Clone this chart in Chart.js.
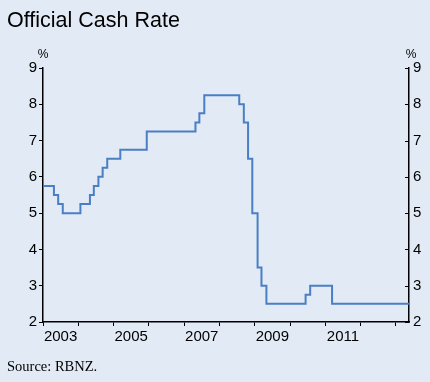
<!DOCTYPE html>
<html>
<head>
<meta charset="utf-8">
<script src="https://cdn.jsdelivr.net/npm/chart.js@4/dist/chart.umd.min.js"></script>
<style>
    body { margin: 0; background: #e2eaf5; }
    #wrap { position: relative; width: 430px; height: 382px; }
    #title { position: absolute; left: 7px; top: 8px; font: 21.5px "Liberation Sans", Arial, sans-serif; color: #000; }
    #source { position: absolute; left: 7px; top: 358px; font: 14.5px "Liberation Serif", serif; color: #000; }
    canvas { position: absolute; left: 0; top: 0; }
</style>
</head>
<body>
<div id="wrap">
    <canvas id="ocr-chart" width="430" height="382"></canvas>
    <div id="title">Official Cash Rate</div>
    <div id="source">Source: RBNZ.</div>
</div>
<script>
// OCR decision dates (decimal years) and the rate set on each
const decisionDates = [2003.0, 2003.31, 2003.43, 2003.56, 2004.06, 2004.33, 2004.44, 2004.57, 2004.69, 2004.82,
    2005.19, 2005.94, 2007.32, 2007.43, 2007.57, 2008.56, 2008.69, 2008.81, 2008.93, 2009.08,
    2009.19, 2009.33, 2010.44, 2010.57, 2011.19, 2013.37]
const cashRate = [5.75, 5.5, 5.25, 5.0, 5.25, 5.5, 5.75, 6.0, 6.25, 6.5,
    6.75, 7.25, 7.5, 7.75, 8.25, 8.0, 7.5, 6.5, 5.0, 3.5,
    3.0, 2.5, 2.75, 3.0, 2.5, 2.5]
const yearLabels = ["2003", "2005", "2007", "2009", "2011"]
const rateTicks = [2, 3, 4, 5, 6, 7, 8, 9]

const lineColor = "#4a7fc4"
const tickFont = { family: "'Liberation Sans', Arial, sans-serif", size: 15 }

// "%" over each axis, and inward tick marks on the right axis
const axisExtras = {
    id: "axisExtras",
    afterDraw(chart) {
        let { ctx, chartArea } = chart
        let y2 = chart.scales.y2
        ctx.save()
        ctx.font = "12px 'Liberation Sans', Arial, sans-serif"
        ctx.fillStyle = "#000"
        ctx.textAlign = "center"
        ctx.textBaseline = "bottom"
        ctx.fillText("%", chartArea.left, chartArea.top - 7)
        ctx.fillText("%", chartArea.right + 2, chartArea.top - 7)
        ctx.strokeStyle = "#000"
        ctx.lineWidth = 1
        rateTicks.forEach(v => {
            let py = Math.round(y2.getPixelForValue(v)) + 0.5
            ctx.beginPath()
            ctx.moveTo(chartArea.right - 4, py)
            ctx.lineTo(chartArea.right, py)
            ctx.stroke()
        })
        ctx.restore()
    }
}

;(function () {
    'use strict'

    let axisBits = {
        grid: { drawOnChartArea: false, drawTicks: true, tickLength: 4, color: "#000", lineWidth: 1 },
        border: { display: true, color: "#000", width: 1.5 }
    }

    let canvas = document.getElementById("ocr-chart")
    let config = {
        type: "line",
        data: {
            datasets: [
                {
                    data: decisionDates.map((d, i) => ({ x: d, y: cashRate[i] })),
                    borderColor: lineColor,
                    borderWidth: 2,
                    stepped: true,
                    pointRadius: 0,
                    fill: false
                }
            ]
        },
        options: {
            responsive: false,
            animation: false,
            layout: { padding: { top: 68, bottom: 30, left: 0, right: 0 } },
            plugins: {
                legend: { display: false },
                tooltip: { enabled: false }
            },
            scales: {
                x: {
                    type: "linear",
                    min: decisionDates[0],
                    max: decisionDates[decisionDates.length - 1],
                    ...axisBits,
                    afterFit: scale => { scale.height = 30 },
                    ticks: {
                        stepSize: 1,
                        includeBounds: false,
                        autoSkip: false,
                        maxRotation: 0,
                        labelOffset: 17.6,
                        padding: 2,
                        color: "#000",
                        font: tickFont,
                        callback: value => yearLabels.includes(String(value)) ? String(value) : ""
                    }
                },
                y: {
                    position: "left",
                    min: rateTicks[0],
                    max: rateTicks[rateTicks.length - 1],
                    ...axisBits,
                    afterFit: scale => { scale.width = 43 },
                    ticks: { stepSize: 1, padding: 2, color: "#000", font: tickFont }
                },
                y2: {
                    position: "right",
                    min: rateTicks[0],
                    max: rateTicks[rateTicks.length - 1],
                    grid: { drawOnChartArea: false, drawTicks: false },
                    border: { display: true, color: "#000", width: 1.5 },
                    afterFit: scale => { scale.width = 21 },
                    ticks: { stepSize: 1, padding: 4, color: "#000", font: tickFont }
                }
            }
        },
        plugins: [axisExtras]
    }

    let chart = new Chart(canvas, config)
})()
</script>
</body>
</html>
